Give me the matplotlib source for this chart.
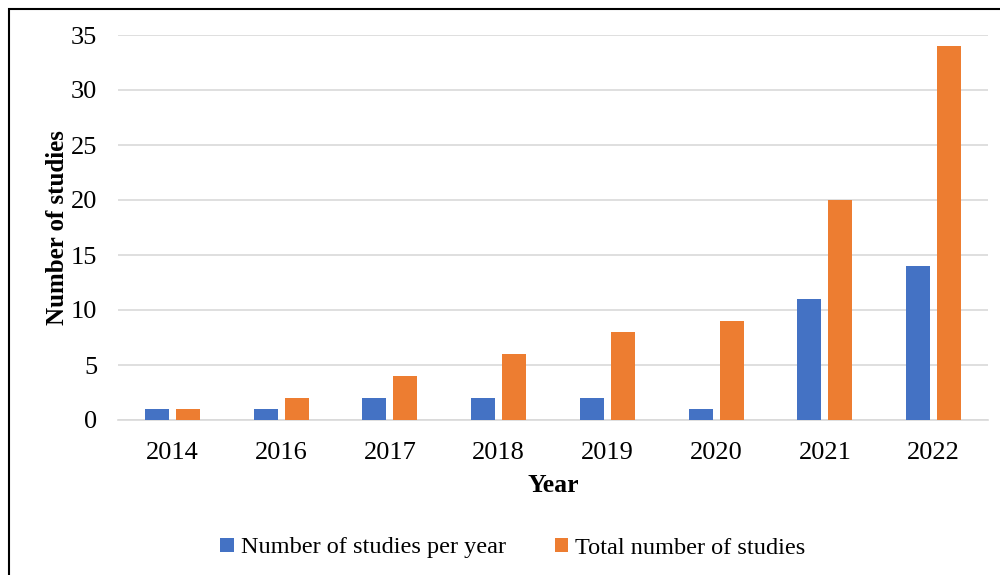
import matplotlib.pyplot as plt
import numpy as np
from matplotlib.patches import Rectangle

years = ["2014", "2016", "2017", "2018", "2019", "2020", "2021", "2022"]
per_year = [1, 1, 2, 2, 2, 1, 11, 14]
total = [1, 2, 4, 6, 8, 9, 20, 34]

plt.rcParams['font.family'] = ['Liberation Serif', 'DejaVu Serif']

W, H = 1000, 575
fig = plt.figure(figsize=(W / 100, H / 100), dpi=100)
ax = fig.add_axes([118 / W, 1 - 420 / H, (988 - 118) / W, (420 - 35) / H])

x = np.arange(len(years))
bw = 0.22
ax.bar(x - 0.143, per_year, bw, color="#4472C4", label="Number of studies per year", zorder=3)
ax.bar(x + 0.143, total, bw, color="#ED7D31", label="Total number of studies", zorder=3)

ax.set_xlim(-0.5, len(years) - 0.5)
ax.set_ylim(0, 35)
ax.set_yticks(range(0, 36, 5))
ax.set_xticks(x)
ax.set_xticklabels(years)
ax.tick_params(axis="both", length=0, labelsize=19, colors="black")
ax.tick_params(axis="x", pad=16)
ax.tick_params(axis="y", pad=15)
ax.yaxis.grid(True, color="#D9D9D9", linewidth=1.2, zorder=0)
for s in ["top", "right", "left"]:
    ax.spines[s].set_visible(False)
ax.spines["bottom"].set_color("#D9D9D9")
ax.spines["bottom"].set_linewidth(1.2)

ax.set_xlabel("Year", fontsize=18.5, fontweight="bold", labelpad=7)
ax.set_ylabel("Number of studies", fontsize=18, fontweight="bold", labelpad=1)

fig.legend(loc="center", bbox_to_anchor=(0.513, 1 - 548 / H), ncol=2, frameon=False,
           fontsize=17.5, handlelength=0.55, handleheight=0.55, columnspacing=2.0,
           handletextpad=0.3)

fig.patches.append(Rectangle((9 / W, -0.1), 1.2, 1 - 9 / H + 0.1, transform=fig.transFigure,
                             fill=False, edgecolor="black", linewidth=1.5))

fig.savefig("out.png", dpi=100)
